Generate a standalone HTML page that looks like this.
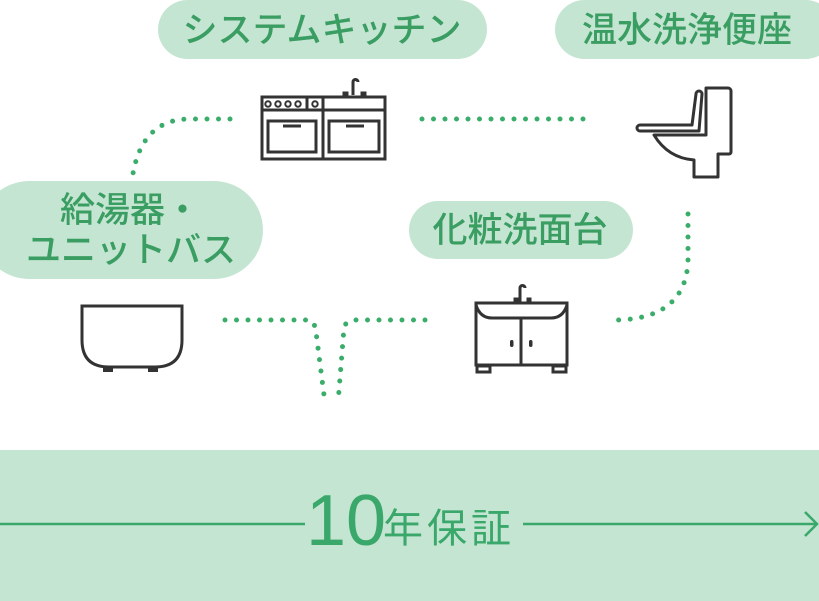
<!DOCTYPE html>
<html><head><meta charset="utf-8"><style>
html,body{margin:0;padding:0;background:#fff;}
body{width:819px;height:601px;overflow:hidden;position:relative;font-family:"Liberation Sans","Noto Sans CJK JP",sans-serif;}
svg{position:absolute;left:0;top:0;}
</style></head><body>
<svg width="819" height="601" viewBox="0 0 819 601" xmlns="http://www.w3.org/2000/svg">
<g fill="#c5e5d3">
<rect x="158" y="0" width="329" height="59" rx="29.5"/>
<rect x="555" y="0" width="280" height="59" rx="29.5"/>
<rect x="-20" y="181" width="283" height="98" rx="49"/>
<rect x="409" y="201" width="224" height="58" rx="29"/>
<rect x="0" y="450" width="819" height="151"/>
</g>
<g font-family="Liberation Sans, Noto Sans CJK JP, sans-serif" fill="#3a9d62" font-size="35" text-anchor="middle" font-weight="500">
<text x="322" y="42">システムキッチン</text>
<text x="687" y="42">温水洗浄便座</text>
<text x="130" y="222">給湯器・</text>
<text x="131" y="262">ユニットバス</text>
<text x="520" y="242">化粧洗面台</text>
</g>
<g fill="none" stroke="#3aad6a" stroke-width="5" stroke-linecap="round" stroke-dasharray="0 11.5">
<path d="M230 119 L190 119 Q140 119 132 180"/>
<path d="M422 119 L592 119"/>
<path d="M688 214 L688 262 Q685 318 618 320"/>
<path d="M225 320 L309 320 Q315 322 316 332 L325 403"/>
<path d="M425 320 L355 320 Q346 320 344 328 L338 403"/>
</g>
<g fill="none" stroke="#333" stroke-width="3">
<rect x="262" y="97" width="123" height="62"/>
<line x1="262" y1="110" x2="385" y2="110"/>
<line x1="323" y1="97" x2="323" y2="159"/>
<line x1="307" y1="97" x2="307" y2="110"/>
<rect x="268" y="121" width="48" height="31"/>
<rect x="329" y="121" width="50" height="31"/>
<line x1="283" y1="126" x2="301" y2="126"/>
<line x1="346" y1="126" x2="364" y2="126"/>
<path d="M353 95 V82 a2.5 2.5 0 0 1 5 0"/>
<rect x="344" y="93" width="3" height="3"/><rect x="362" y="93" width="3" height="3"/>
<path d="M706 88 H728 a3 3 0 0 1 3 3 V152 a2 2 0 0 1 -2 2 H718 V177 H694 V160 Q668 158 654 135 H706 Z" stroke-linejoin="round"/>
<path d="M706 135 V88"/>
<path d="M696 94 a3 3 0 0 1 6 0 L699 131 H640 a3 3 0 0 1 0 -6 H692 Z" stroke-linejoin="round"/>
<path d="M82 306 H182 V340 Q182 367 155 367 H109 Q82 367 82 340 Z"/>
<rect x="476" y="303" width="91" height="62"/>
<path d="M476 305 Q480 318 492 318 H551 Q563 318 567 305"/>
<line x1="521" y1="318" x2="521" y2="365"/>
<rect x="477" y="366" width="13" height="6"/><rect x="553" y="366" width="13" height="6"/>
<path d="M520 302 V288 a2.5 2.5 0 0 1 5 0"/>
<rect x="515" y="299" width="2" height="3"/><rect x="528" y="299" width="2" height="3"/>
</g>
<g fill="none" stroke="#333" stroke-width="2">
<circle cx="268" cy="104" r="2.7"/><circle cx="278" cy="104" r="2.7"/><circle cx="288" cy="104" r="2.7"/><circle cx="298" cy="104" r="2.7"/><circle cx="315" cy="104" r="2.7"/>
</g>
<g fill="#333">
<rect x="103" y="367" width="10" height="5"/><rect x="148" y="367" width="10" height="5"/>
<rect x="510" y="340" width="3.5" height="7" rx="1.7"/><rect x="529" y="340" width="3.5" height="7" rx="1.7"/>
</g>
<g stroke="#3aa86a" stroke-width="2.5" fill="none">
<line x1="0" y1="524" x2="305" y2="524"/>
<line x1="523" y1="524" x2="816" y2="524"/>
<path d="M805 512 L817 524 L805 536"/>
</g>
<text x="306" y="545" font-family="Liberation Sans, sans-serif" font-size="72" fill="#3aa86a">10</text>
<text x="383" y="542" font-family="Liberation Sans, Noto Sans CJK JP, sans-serif" font-size="40" fill="#3aa86a" letter-spacing="4">年保証</text>
</svg>
</body></html>
